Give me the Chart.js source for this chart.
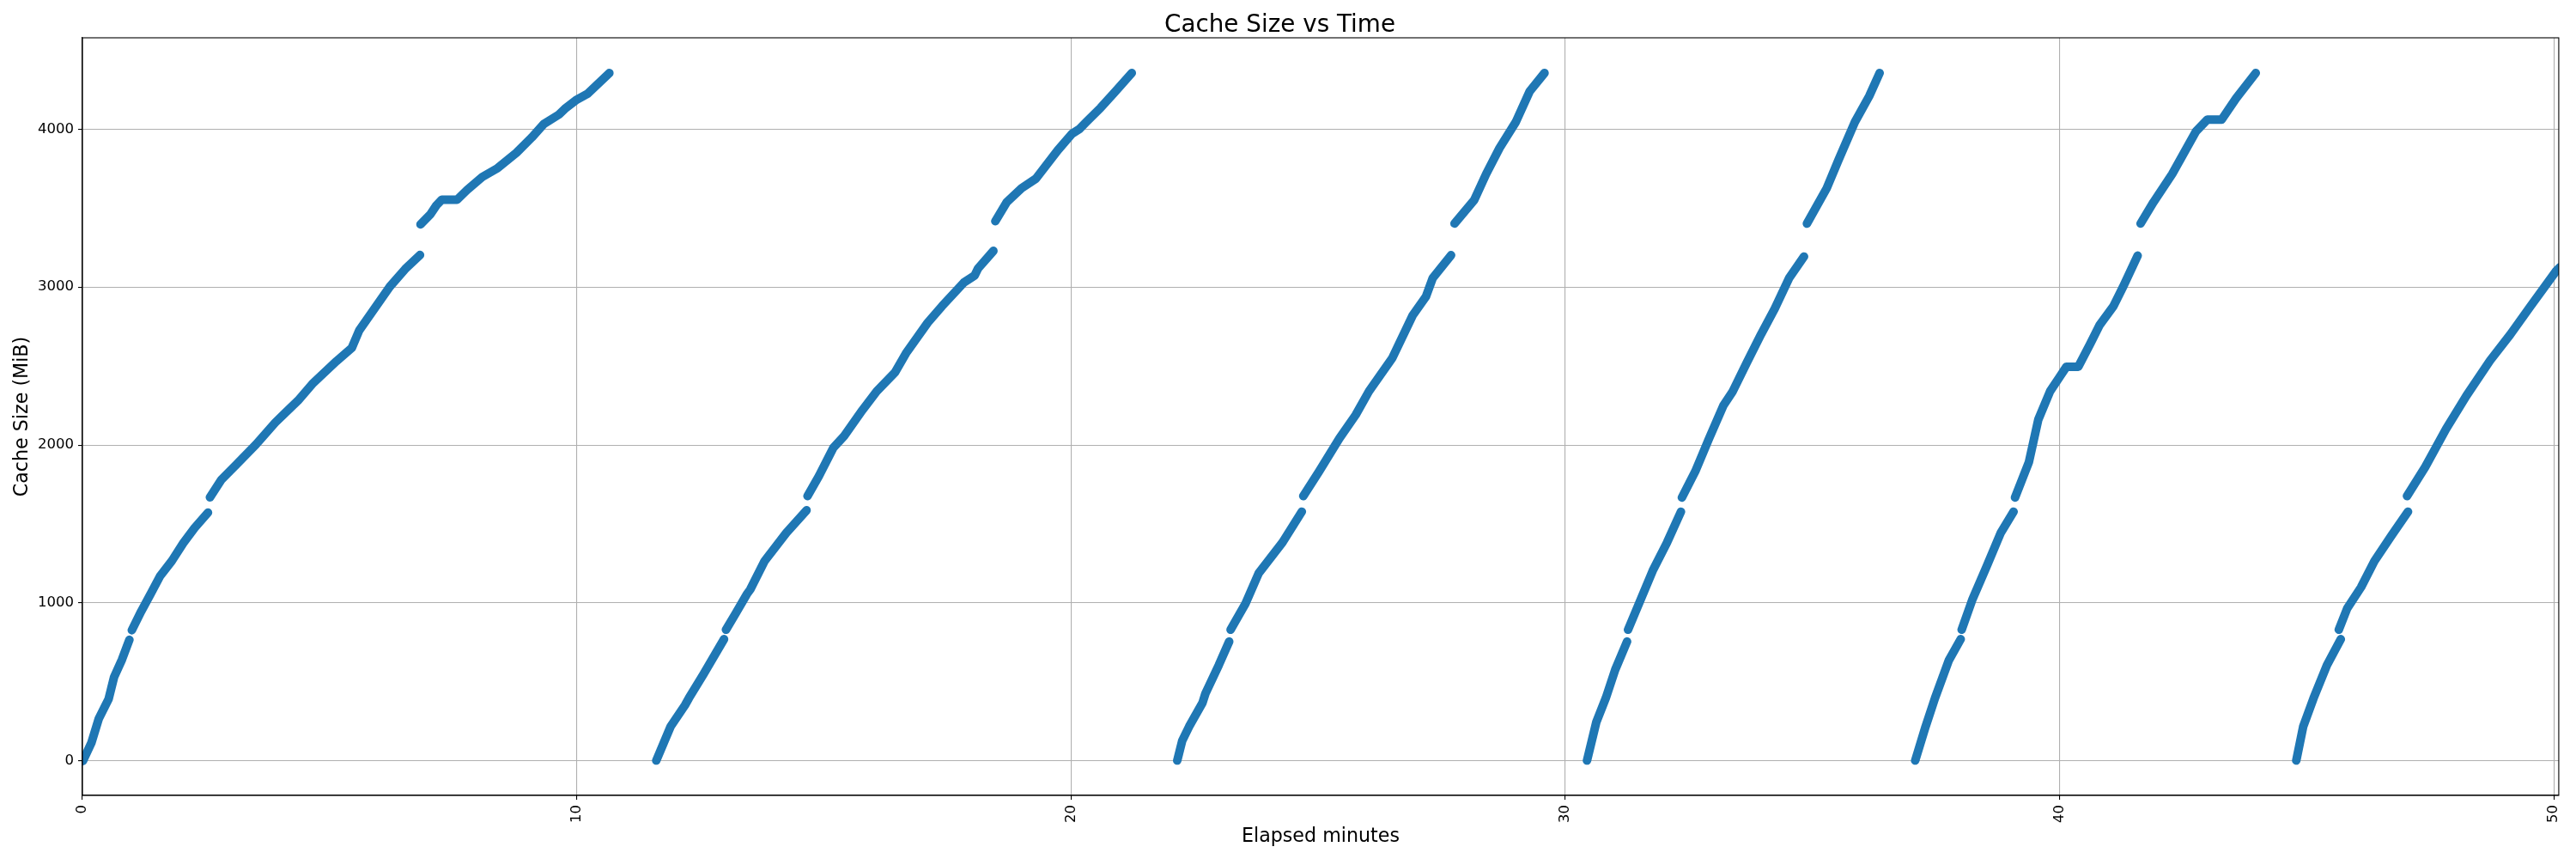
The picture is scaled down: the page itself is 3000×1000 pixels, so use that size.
<!DOCTYPE html>
<html><head><meta charset="utf-8">
<script src="https://cdn.jsdelivr.net/npm/chart.js@4.4.1/dist/chart.umd.min.js"></script>
<style>html,body{margin:0;padding:0;background:#fff}canvas{display:block}</style>
</head><body>
<canvas id="c" width="3000" height="1000"></canvas>
<script>
const xTicks = [0, 10, 20, 30, 40, 50];
const xTickLabels = ['0', '10', '20', '30', '40', '50'];
const yTicks = [0, 1000, 2000, 3000, 4000];
const yTickLabels = ['0', '1000', '2000', '3000', '4000'];

// null marks a gap between logged segments
const run1Minutes = [0.01,0.18,0.33,0.53,0.64,0.80,0.95,null,1.00,1.19,1.38,1.57,1.81,2.04,2.27,2.54,null,2.58,2.81,3.12,3.51,3.90,4.13,4.36,4.67,5.14,5.45,5.60,5.91,6.22,6.53,6.83,null,6.84,7.04,7.16,7.27,7.58,7.78,8.09,8.40,8.78,9.09,9.33,9.64,9.78,10.00,10.22,10.66];
const run1MiB =     [0,114,267,392,531,642,767,null,828,948,1058,1170,1267,1379,1476,1572,null,1669,1780,1878,2003,2142,2212,2281,2393,2531,2615,2726,2864,3003,3114,3203,null,3397,3461,3517,3553,3553,3614,3697,3753,3850,3947,4031,4092,4134,4186,4224,4355];

const run2Minutes = [11.61,11.90,12.19,12.27,12.56,12.98,null,13.02,13.22,13.44,13.51,13.80,14.24,14.65,null,14.67,14.90,15.19,15.41,15.78,16.07,16.44,16.66,17.10,17.39,17.83,18.05,18.12,18.43,null,18.47,18.70,19.00,19.29,19.73,20.02,20.17,20.31,20.60,20.90,21.23];
const run2MiB =     [3,218,353,398,547,771,null,831,936,1055,1085,1265,1444,1587,null,1677,1803,1982,2057,2221,2341,2460,2580,2774,2879,3028,3073,3118,3229,null,3417,3537,3626,3686,3865,3970,4000,4045,4135,4239,4355];

const run3Minutes = [22.15,22.25,22.39,22.66,22.72,22.99,23.20,null,23.23,23.53,23.80,24.28,24.67,null,24.70,25.02,25.43,25.76,26.03,26.50,26.91,27.18,27.32,27.69,null,27.76,28.16,28.40,28.67,29.00,29.28,29.58];
const run3MiB =     [3,128,218,368,427,607,756,null,831,996,1190,1384,1578,null,1677,1833,2042,2191,2341,2550,2819,2939,3058,3202,null,3402,3552,3716,3880,4045,4239,4355];

const run4Minutes = [30.44,30.63,30.82,31.01,31.25,null,31.27,31.53,31.77,32.06,32.34,null,32.36,32.63,32.91,33.20,33.39,33.67,33.96,34.24,34.53,34.83,null,34.89,35.29,35.53,35.86,36.15,36.36];
const run4MiB =     [3,248,398,577,756,null,831,1025,1205,1384,1578,null,1668,1833,2042,2251,2341,2520,2700,2864,3058,3193,null,3402,3626,3806,4045,4209,4355];

const run5Minutes = [37.08,37.29,37.48,37.76,38.00,null,38.02,38.24,38.53,38.81,39.07,null,39.10,39.38,39.57,39.81,40.00,40.14,40.38,40.62,40.81,41.09,41.28,41.58,null,41.64,41.90,42.28,42.52,42.76,42.99,43.28,43.57,43.97];
const run5MiB =     [3,218,398,637,771,null,831,1025,1235,1444,1578,null,1668,1892,2161,2341,2430,2496,2496,2640,2759,2879,2998,3199,null,3402,3537,3716,3851,3985,4060,4060,4194,4355];

const run6Minutes = [44.79,44.93,45.14,45.41,45.69,null,45.65,45.82,46.10,46.37,46.72,47.05,null,47.03,47.40,47.82,48.23,48.71,49.12,49.53,50.05,50.12];
const run6MiB =     [3,218,398,607,771,null,831,966,1100,1265,1429,1578,null,1677,1862,2102,2311,2535,2700,2879,3103,3125];

const runs = [
  [run1Minutes, run1MiB], [run2Minutes, run2MiB], [run3Minutes, run3MiB],
  [run4Minutes, run4MiB], [run5Minutes, run5MiB], [run6Minutes, run6MiB]
];
const points = [];
runs.forEach(([ts, vs]) => {
  let lastT = ts[0];
  ts.forEach((t, i) => {
    if (vs[i] === null) { points.push({x: lastT, y: null}); }
    else { lastT = t; points.push({x: t, y: vs[i]}); }
  });
  points.push({x: lastT, y: null});
});

const FONT = 'DejaVu Sans';
const spines = {
  id: 'spines',
  afterDraw(chart) {
    const {ctx, chartArea: a} = chart;
    ctx.save();
    ctx.strokeStyle = '#000';
    ctx.lineWidth = 1.1;
    ctx.strokeRect(a.left, a.top, a.right - a.left, a.bottom - a.top);
    ctx.restore();
  }
};

new Chart(document.getElementById('c'), {
  type: 'scatter',
  data: { datasets: [{
    data: points,
    showLine: true,
    spanGaps: false,
    borderColor: '#1f77b4',
    backgroundColor: '#1f77b4',
    borderWidth: 10,
    borderCapStyle: 'round',
    borderJoinStyle: 'round',
    pointRadius: 0,
    pointHoverRadius: 0,
    tension: 0,
    clip: 0
  }]},
  options: {
    responsive: false,
    animation: false,
    devicePixelRatio: 1,
    events: [],
    layout: { padding: { left: 0, right: 19, top: 0, bottom: 0 } },
    plugins: {
      legend: { display: false },
      tooltip: { enabled: false },
      title: {
        display: true,
        text: 'Cache Size vs Time',
        color: '#000',
        font: { family: FONT, size: 27.8, weight: 'normal', lineHeight: 1 },
        padding: { top: 15.6, bottom: 0.6 }
      }
    },
    scales: {
      x: {
        type: 'linear',
        min: 0, max: 50.1,
        afterFit(s) { s.height = 74; },
        afterBuildTicks(s) { s.ticks = xTicks.map(v => ({value: v})); },
        ticks: {
          stepSize: 10, includeBounds: false, autoSkip: false,
          minRotation: 90, maxRotation: 90, padding: 6,
          color: '#000', font: { family: FONT, size: 16.5 },
          callback: (v) => { const i = xTicks.indexOf(v); return i >= 0 ? xTickLabels[i] : ''; }
        },
        grid: { color: '#b0b0b0', lineWidth: 1.1, tickLength: 5, tickColor: '#000', tickWidth: 1.1 },
        border: { display: true, color: '#000', width: 1.1 },
        title: { display: true, text: 'Elapsed minutes', color: '#000',
          font: { family: FONT, size: 22.2 }, padding: { top: 0, bottom: 12.7 } }
      },
      y: {
        type: 'linear',
        min: -218, max: 4578,
        afterFit(s) { s.width = 96; },
        afterBuildTicks(s) { s.ticks = yTicks.map(v => ({value: v})); },
        ticks: {
          stepSize: 1000, includeBounds: false, padding: 5,
          color: '#000', font: { family: FONT, size: 16.5 },
          callback: (v) => { const i = yTicks.indexOf(v); return i >= 0 ? yTickLabels[i] : ''; }
        },
        grid: { color: '#b0b0b0', lineWidth: 1.1, tickLength: 5, tickColor: '#000', tickWidth: 1.1 },
        border: { display: true, color: '#000', width: 1.1 },
        title: { display: true, text: 'Cache Size (MiB)', color: '#000',
          font: { family: FONT, size: 22.2 }, padding: { top: 12.7, bottom: 0 } }
      }
    }
  },
  plugins: [spines]
});
</script>
</body></html>
